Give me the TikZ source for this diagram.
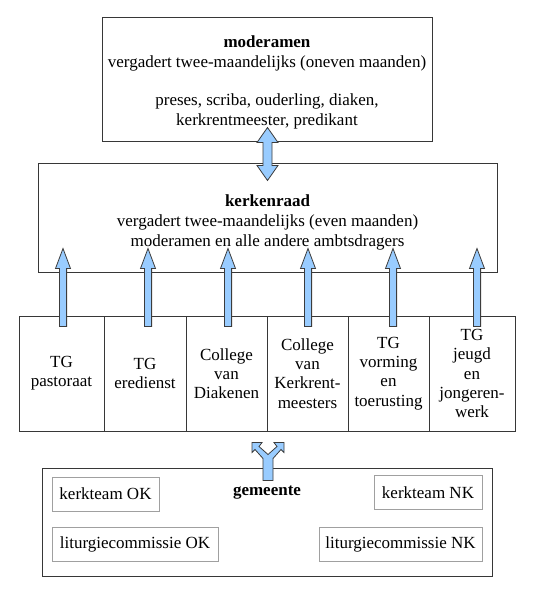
\documentclass[tikz,border=0pt]{standalone}
\usepackage{fontspec}
\setmainfont{Liberation Serif}
\usetikzlibrary{calc}
\definecolor{arrowfill}{RGB}{153,204,255}
\definecolor{boxline}{RGB}{55,55,55}
\definecolor{innerline}{RGB}{160,160,160}
\definecolor{arrowline}{RGB}{60,60,60}
\tikzset{
  txt/.style={font=\fontsize{17}{19.2}\selectfont, align=center, inner sep=0pt},
  bigbox/.style={txt, draw=boxline, line width=1pt, fill=white},
  topbox/.style={bigbox, font=\fontsize{17}{20}\selectfont},
  colbox/.style={bigbox, minimum height=115, text width=80},
  innerbox/.style={txt, draw=innerline, line width=1pt, minimum height=34},
  blockarrow/.style={fill=arrowfill, draw=arrowline, line width=0.8pt, line join=miter},
}
\newcommand\myuparrow[2]{%
  \filldraw[blockarrow] let \p1=(#1), \p2=(#2) in
    (\x1-3.6pt,\y1) -- (\x1-3.6pt,\y2-20pt) -- (\x1-7.5pt,\y2-20pt) -- (\x1,\y2)
    -- (\x1+7.5pt,\y2-20pt) -- (\x1+3.6pt,\y2-20pt) -- (\x1+3.6pt,\y1) -- cycle;}
\newcommand\mydblarrow[2]{%
  \filldraw[blockarrow] let \p1=(#1), \p2=(#2) in
    (\x1,\y1) -- (\x1+10.5pt,\y1-15pt) -- (\x1+4.5pt,\y1-15pt) -- (\x1+4.5pt,\y2+15pt)
    -- (\x1+10.5pt,\y2+15pt) -- (\x1,\y2) -- (\x1-10.5pt,\y2+15pt) -- (\x1-4.5pt,\y2+15pt)
    -- (\x1-4.5pt,\y1-15pt) -- (\x1-10.5pt,\y1-15pt) -- cycle;}
\begin{document}
\begin{tikzpicture}[x=1pt,y=-1pt]
\useasboundingbox (0,0) rectangle (543,600);
% moderamen
\node[topbox, minimum width=330, minimum height=124] (mod) at (267,79)
  {\rule{0pt}{19pt}\textbf{moderamen}\\vergadert twee-maandelijks (oneven maanden)\\[18pt]
   preses, scriba, ouderling, diaken,\\kerkrentmeester, predikant};
% kerkenraad
\node[topbox, minimum width=459, minimum height=109] (ker) at (267.5,217.5)
  {\rule{0pt}{21pt}\textbf{kerkenraad}\\vergadert twee-maandelijks (even maanden)\\moderamen en alle andere ambtsdragers};
% columns
\node[colbox, minimum width=85] (c1) at (61.5,373.5) {TG\\pastoraat};
\node[colbox, minimum width=82] (c2) at (145,373.5) {TG\\eredienst};
\node[colbox, minimum width=81] (c3) at (226.5,373.5) {College\\van\\Diakenen};
\node[colbox, minimum width=81] (c4) at (307.5,373.5) {College\\van\\Kerkrent-\\meesters};
\node[colbox, minimum width=81] (c5) at (388.5,373.5) {TG\\vorming\\en\\toerusting};
\node[colbox, minimum width=86] (c6) at (472,373.5) {TG\\jeugd\\en\\jongeren-\\werk};
% gemeente
\node[bigbox, minimum width=450, minimum height=108] (gem) at (267,522) {};
\node[txt] (gemt) at (267,493) {\textbf{gemeente}};
\node[innerbox, minimum width=107] (kok) at (105.5,494) {kerkteam OK};
\node[innerbox, minimum width=166] (lok) at (135,544) {liturgiecommissie OK};
\node[innerbox, minimum width=108] (knk) at (428,492.5) {kerkteam NK};
\node[innerbox, minimum width=163] (lnk) at (400.5,544) {liturgiecommissie NK};
% arrow coordinates
\coordinate (s1) at ($(c1.north)+(1.5,11)$);
\coordinate (s2) at ($(c2.north)+(3,11)$);
\coordinate (s3) at ($(c3.north)+(1.5,11)$);
\coordinate (s4) at ($(c4.north)+(0.5,11)$);
\coordinate (s5) at ($(c5.north)+(4.5,11)$);
\coordinate (s6) at ($(c6.north)+(5,11)$);
\foreach \i in {1,...,6} {
  \coordinate (t\i) at ($(s\i |- ker.south)+(0,-24)$);
  \myuparrow{s\i}{t\i}
}
% double arrow moderamen <-> kerkenraad
\coordinate (dtop) at ($(mod.south)+(0.5,-14)$);
\coordinate (dbot) at ($(ker.north)+(0,18)$);
\mydblarrow{dtop}{dbot}
% split arrow gemeente -> columns
\coordinate (yb) at ($(gem.north)+(1,13)$);
\filldraw[blockarrow, shift={(yb)}]
  (-16,-38) -- (-6,-38) -- (-9,-34) -- (0,-26) -- (9,-34) -- (6,-38) -- (16,-38)
  -- (16,-28) -- (13,-31) -- (5,-22) -- (5,0) -- (-5,0) -- (-5,-22) -- (-13,-31)
  -- (-16,-28) -- cycle;
\end{tikzpicture}
\end{document}
